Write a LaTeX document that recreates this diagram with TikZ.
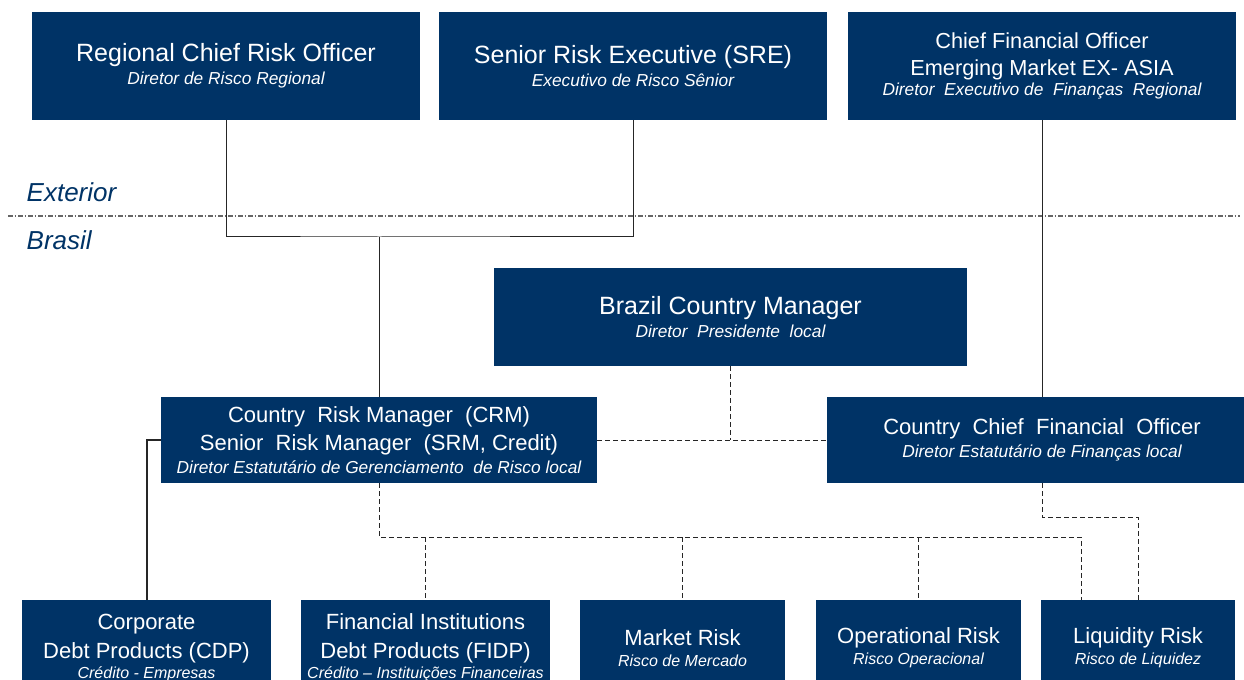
\documentclass[tikz,border=0pt]{standalone}
\usepackage{fontspec}
\setmainfont{Liberation Sans}
\usepackage{tikz}
\usetikzlibrary{positioning,calc}
\usepackage{xcolor}
\definecolor{navy}{RGB}{0,51,102}
\newcommand{\ptname}[1]{{\fontsize{13}{15}\selectfont\itshape #1}}
\newcommand{\ptsmall}[1]{{\fontsize{12}{14}\selectfont\itshape #1}}

\begin{document}
\begin{tikzpicture}[x=0.75pt,y=-0.75pt,
   box/.style={fill=navy,text=white,align=center,inner sep=0pt},
   link/.style={draw=black!85,line width=0.75pt},
   dlink/.style={draw=black!85,line width=0.75pt,dash pattern=on 3.5pt off 2.5pt},
   region/.style={anchor=base west,text=navy,font=\fontsize{19.5}{22}\selectfont\itshape}]
  \useasboundingbox (0,0) rectangle (1244,680);
  \clip (0,0) rectangle (1244,680);
  \node[box,minimum width=291pt,minimum height=81pt,font=\fontsize{18.75}{22}\selectfont] (rcro) at (226,66)
    {Regional Chief Risk Officer\\[-5pt]\ptname{Diretor de Risco Regional}};
  \node[box,minimum width=291pt,minimum height=81pt,font=\fontsize{18.75}{22}\selectfont] (sre) at (633,66)
    {Senior Risk Executive (SRE)\\[-5pt]\ptname{Executivo de Risco Sênior}};
  \node[box,minimum width=291pt,minimum height=81pt,font=\fontsize{16.3}{20.25}\selectfont] (cfoem) at (1042,66)
    {Chief Financial Officer\\Emerging Market EX- ASIA\\[-5.25pt]\ptname{Diretor\ \ Executivo de\ \ Finanças\ \ Regional}};
  \node[box,minimum width=354.75pt,minimum height=73.5pt,font=\fontsize{18.75}{22}\selectfont] (bcm) at (730.5,317)
    {Brazil Country Manager\\[-4.75pt]\ptname{Diretor\ \ Presidente\ \ local}};
  \node[box,minimum width=327pt,minimum height=64.5pt,font=\fontsize{16.5}{21}\selectfont] (crm) at (379,440)
    {Country\ \ Risk Manager\ \ (CRM)\\Senior\ \ Risk Manager\ \ (SRM, Credit)\\[-3.75pt]\ptname{Diretor Estatutário de Gerenciamento\ \ de Risco local}};
  \node[box,minimum width=322.5pt,minimum height=64.5pt,font=\fontsize{16.5}{21}\selectfont] (ccfo) at (1042,440)
    {Country\ \ Chief\ \ Financial\ \ Officer\\[-3.75pt]\ptname{Diretor Estatutário de Finanças local}};
  \node[box,minimum width=186.75pt,minimum height=72pt,font=\fontsize{16.5}{21.75}\selectfont] (cdp) at (146.5,648)
    {Corporate\\Debt Products (CDP)\\[-6.75pt]\ptsmall{Crédito - Empresas}};
  \node[box,minimum width=186.75pt,minimum height=72pt,font=\fontsize{16.5}{21.75}\selectfont] (fidp) at (425.5,648)
    {Financial Institutions\\Debt Products (FIDP)\\[-6.75pt]\ptsmall{Crédito -- Instituições Financeiras}};
  \node[box,minimum width=153.75pt,minimum height=72pt,font=\fontsize{16.5}{21.75}\selectfont] (mkt) at (682.5,648)
    {Market Risk\\[-6pt]\ptsmall{Risco de Mercado}};
  \node[box,minimum width=153.75pt,minimum height=72pt,font=\fontsize{16.5}{21.75}\selectfont] (opr) at (918.5,648)
    {Operational Risk\\[-6pt]\ptsmall{Risco Operacional}};
  \node[box,minimum width=145.5pt,minimum height=72pt,font=\fontsize{16.5}{21.75}\selectfont] (liq) at (1138,648)
    {Liquidity Risk\\[-6pt]\ptsmall{Risco de Liquidez}};
  \node[region] (ext) at (22,202) {Exterior};
  \node[region] (bra) at (22,250) {Brasil};
  \draw[draw=black!60,line width=0.9pt,dash pattern=on 3.5pt off 1.5pt on 1pt off 1.5pt] (8,216) -- (1240,216);
  \coordinate (jn) at (379,237);
  \draw[link] (rcro.south) |- (jn) -| (sre.south);
  \draw[link] (jn) -- (crm.north);
  \draw[link] (cfoem.south) -- (cfoem.south |- ccfo.north);
  \draw[link,line width=1.5pt] (crm.west) -| (cdp.north);
  \draw[dlink] (crm.east) -- (ccfo.west);
  \draw[dlink] (bcm.south) -- (bcm.south |- crm.east);
  \coordinate (busL) at (379,537);
  \coordinate (busR) at (1081,537);
  \draw[dlink] (crm.south) -- (busL) -- (busR) -- (busR |- liq.north);
  \foreach \n in {fidp,mkt,opr}
    \draw[dlink] (busL -| \n.north) -- (\n.north);
  \coordinate (lqj) at (1138,517);
  \draw[dlink] (ccfo.south) |- (lqj) -- (liq.north);
\end{tikzpicture}
\end{document}
